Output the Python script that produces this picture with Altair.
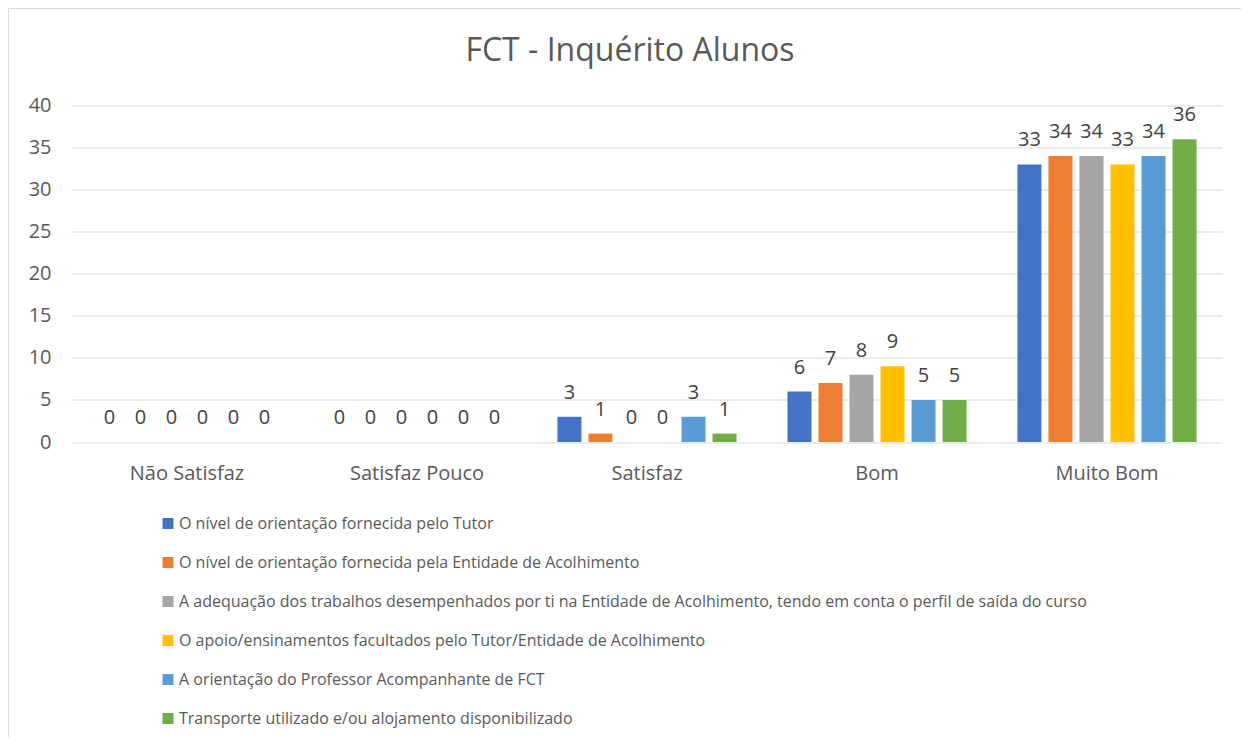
import altair as alt
import pandas as pd

title_text = "FCT - Inquérito Alunos"
categories = ["Não Satisfaz", "Satisfaz Pouco", "Satisfaz", "Bom", "Muito Bom"]
series = [
    "O nível de orientação fornecida pelo Tutor",
    "O nível de orientação fornecida pela Entidade de Acolhimento",
    "A adequação dos trabalhos desempenhados por ti na Entidade de Acolhimento, tendo em conta o perfil de saída do curso",
    "O apoio/ensinamentos facultados pelo Tutor/Entidade de Acolhimento",
    "A orientação do Professor Acompanhante de FCT",
    "Transporte utilizado e/ou alojamento disponibilizado",
]
tutor = [0, 0, 3, 6, 33]
entidade = [0, 0, 1, 7, 34]
adequacao = [0, 0, 0, 8, 34]
apoio = [0, 0, 0, 9, 33]
professor = [0, 0, 3, 5, 34]
transporte = [0, 0, 1, 5, 36]
colors = ["#4472C4", "#ED7D31", "#A5A5A5", "#FFC000", "#5B9BD5", "#70AD47"]
y_ticks = [0, 5, 10, 15, 20, 25, 30, 35, 40]

all_vals = [tutor, entidade, adequacao, apoio, professor, transporte]
rows = []
for s, vals in zip(series, all_vals):
    for c, v in zip(categories, vals):
        rows.append({"Categoria": c, "Série": s, "Valor": v})
df = pd.DataFrame(rows)

FONT = "Open Sans"
TXT = "#595959"
W, H = 1150, 336.5
PL, PT, PR, PB = 64, 97.5, 19, 295

x_enc = alt.X("Categoria:N", sort=categories,
              scale=alt.Scale(paddingInner=0, paddingOuter=0),
              axis=alt.Axis(title=None, labelAngle=0, ticks=False, domain=False,
                            labelFontSize=20, labelColor=TXT, labelFont=FONT,
                            labelPadding=21))
xoff = alt.XOffset("Série:N", sort=series,
                   scale=alt.Scale(paddingInner=0.226, paddingOuter=0.82))
y_enc = alt.Y("Valor:Q", scale=alt.Scale(domain=[0, 40], nice=False),
              axis=alt.Axis(title=None, values=y_ticks, ticks=False, domain=False,
                            grid=True, gridColor="#D9D9D9", gridWidth=1,
                            labelFontSize=20, labelColor=TXT, labelFont=FONT,
                            labelPadding=21))

bars = alt.Chart(df).mark_bar().encode(
    x=x_enc, xOffset=xoff, y=y_enc,
    color=alt.Color("Série:N", sort=series,
                    scale=alt.Scale(domain=series, range=colors),
                    legend=alt.Legend(title=None, orient="none", legendX=88, legendY=410,
                                      direction="vertical", symbolType="square",
                                      symbolSize=121, symbolStrokeWidth=0,
                                      labelFontSize=16, labelColor=TXT, labelFont=FONT,
                                      labelLimit=2000, labelOffset=3, rowPadding=23)),
)

labels = alt.Chart(df).mark_text(
    baseline="alphabetic", dy=-18, fontSize=20, font=FONT, color="#404040"
).encode(x=alt.X("Categoria:N", sort=categories), xOffset=xoff, y=alt.Y("Valor:Q"),
         text="Valor:Q")

title = alt.Chart(alt.Data(values=[{"t": title_text}])).mark_text(
    fontSize=32, font=FONT, color=TXT, baseline="alphabetic", align="center"
).encode(x=alt.value(630 - 72), y=alt.value(61 - 105.5), text="t:N")

border = alt.Chart(alt.Data(values=[{}])).mark_rect(
    fill=None, stroke="#D9D9D9", strokeWidth=1
).encode(x=alt.value(-PL + 0.5), x2=alt.value(W + PR + 50),
         y=alt.value(-PT + 0.5), y2=alt.value(H + PB + 50))

chart = alt.layer(border, bars, labels, title).properties(
    width=W, height=H,
    autosize=alt.AutoSizeParams(type="none"),
    padding={"left": PL, "top": PT, "right": PR, "bottom": PB},
).configure(background="white").configure_view(stroke=None)

chart.save("out.html", embed_options={"renderer": "svg", "actions": False})
